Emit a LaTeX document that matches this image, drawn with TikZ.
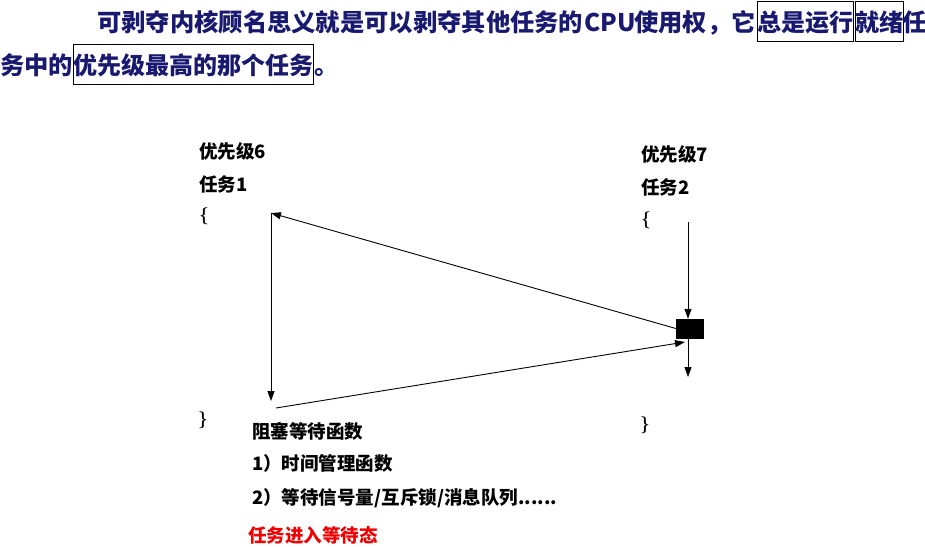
\documentclass[tikz,border=0pt]{standalone}
\usepackage{fontspec}
\newfontfamily\cjk{Noto Sans CJK SC}
\usetikzlibrary{arrows.meta}
\definecolor{navy}{RGB}{25,25,112}
\definecolor{redtxt}{RGB}{240,0,0}
\begin{document}
\begin{tikzpicture}[x=1pt,y=-1pt,
 head/.style={font=\cjk\bfseries\fontsize{24.3}{28}\selectfont, text=navy, inner sep=0pt, anchor=base west},
 hbox/.style={head, font=\cjk\bfseries\fontsize{24}{28}\selectfont, draw=black, line width=0.8pt, text height=30pt, text depth=10pt},
 lbl/.style={font=\cjk\bfseries\fontsize{18.5}{22}\selectfont, inner sep=0pt, anchor=base west},
 bracetxt/.style={font=\bfseries\fontsize{17}{22}\selectfont, inner sep=0pt, anchor=west},
 arr/.style={line width=0.9pt, -{Triangle[length=10pt,width=7pt]}},
 blk/.style={draw=black, fill=black, minimum width=27pt, minimum height=19pt, inner sep=0pt}]
\useasboundingbox (0,0) rectangle (925,546);
% heading line 1
\node[head] (h1) at (97,31) {可剥夺内核顾名思义就是可以剥夺其他任务的};
\node[head] (h2) at (584,31) {CPU};
\node[head] (h3) at (634,31) {使用权，它};
\node[hbox] (h4) at (757,31) {总是运行};
\node[hbox] (h5) at (855,31) {就绪};
\node[head] (h6) at (902,31) {任};
% heading line 2
\node[head] (g1) at (0,74) {务中的};
\node[hbox] (g2) at (73,74) {优先级最高的那个任务};
\node[head] (g3) at (314,74) {。};
% task 1
\node[lbl] (p6) at (199,158) {优先级6};
\node[lbl] (t1) at (199,191) {任务1};
\node[bracetxt] (ob1) at (199,216) {\{};
\node[bracetxt] (cb1) at (198,420) {\}};
% task 2
\node[lbl] (p7) at (641,161) {优先级7};
\node[lbl] (t2) at (641,194) {任务2};
\node[bracetxt] (ob2) at (641,220) {\{};
\node[bracetxt] (cb2) at (640,425) {\}};
% blocking text
\node[lbl] (b0) at (252,438) {阻塞等待函数};
\node[lbl] (b1) at (252,470) {1）时间管理函数};
\node[lbl] (b2) at (252,504) {2）等待信号量/互斥锁/消息队列......};
\node[lbl, text=redtxt] (b3) at (248,542) {任务进入等待态};
% black box
\node[blk] (cpu) at (689.5,328.5) {};
% connectors
\coordinate (a1) at (271,213);
\coordinate (a2) at (271,401);
\coordinate (l1) at (276,408);
\coordinate (l2) at (685,342);
\coordinate (v1) at (688,222);
\coordinate (v2) at (688,377);
\draw[arr] (a1) -- (a2);
\draw[arr] (l1) -- (l2);
\draw[arr] (cpu.west) -- (a1);
\draw[arr] (v1) -- (v1 |- cpu.north);
\draw[arr] (v1 |- cpu.south) -- (v2);
\end{tikzpicture}
\end{document}
